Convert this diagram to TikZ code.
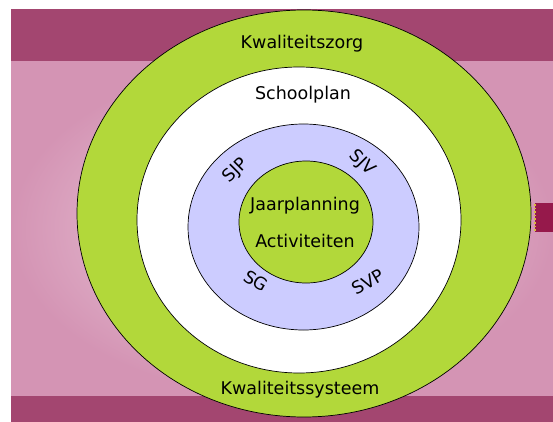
\documentclass[tikz,border=0pt]{standalone}
\usepackage{fontspec}
\setmainfont{DejaVu Sans}
\usepackage{xcolor}
\usetikzlibrary{shapes}

\definecolor{ringgreen}{RGB}{178,216,58}
\definecolor{ringblue}{RGB}{204,204,255}
\definecolor{bandpink}{RGB}{163,70,112}
\definecolor{softpink}{RGB}{212,148,180}
\definecolor{lightpink}{RGB}{240,214,228}
\definecolor{tabred}{RGB}{150,25,75}
\definecolor{tabyellow}{RGB}{215,190,60}

\tikzset{ring/.style={draw=black,line width=0.7pt},
  lbl/.style={font=\fontsize{17.5}{19}\selectfont,text=black,inner sep=0pt}}

\begin{document}
\begin{tikzpicture}[x=1pt,y=-1pt]
            \useasboundingbox (0,0) rectangle (553,422);
            % background
            \shade[inner color=lightpink,outer color=softpink] (11,61) rectangle (553,396);
            \fill[bandpink] (11,9) rectangle (553,61);
            \fill[bandpink] (11,396) rectangle (553,422);
            \fill[tabred] (535,203) rectangle (553,232);
            \draw[tabyellow,line width=1.6pt,dotted] (535,204) -- (535,231);
            % rings
            \filldraw[ring,fill=ringgreen] (304,213.5) ellipse [x radius=227, y radius=203.5];
            \filldraw[ring,fill=white] (299,220) ellipse [x radius=162, y radius=153];
            \filldraw[ring,fill=ringblue] (303.5,227) ellipse [x radius=115.5, y radius=103];
            \filldraw[ring,fill=ringgreen] (306,222) ellipse [x radius=67, y radius=61];
            % labels
            \node[lbl] (zorg) at (302,44) {Kwaliteitszorg};
            \node[lbl] (plan) at (303,95) {Schoolplan};
            \node[lbl] (jaar) at (305,206) {Jaarplanning};
            \node[lbl] (act) at (305,241) {Activiteiten};
            \node[lbl] (syst) at (300,390) {Kwaliteitssysteem};
            \node[lbl,rotate=45] (sjp) at (236,171) {SJP};
            \node[lbl,rotate=-45] (sjv) at (362,163) {SJV};
            \node[lbl,rotate=-30] (sg) at (256,281) {SG};
            \node[lbl,rotate=30] (svp) at (368,282) {SVP};
      \end{tikzpicture}
\end{document}
